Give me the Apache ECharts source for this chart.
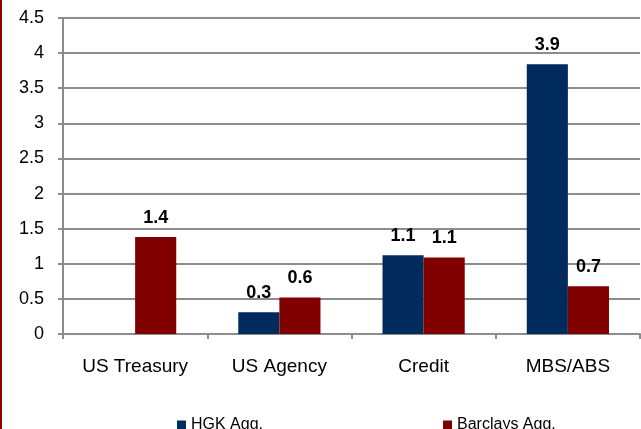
<!DOCTYPE html>
<html>
<head>
<meta charset="utf-8">
<script src="https://cdn.jsdelivr.net/npm/echarts@6/dist/echarts.min.js"></script>
<style>
  html, body { margin: 0; padding: 0; background: #fff; }
  #chart { width: 641px; height: 429px; border-left: 2px solid #8b0000; box-sizing: border-box; }
</style>
</head>
<body>
<div id="chart"></div>
<script>
var categories = ["US Treasury", "US Agency", "Credit", "MBS/ABS"];
var hgkValues = [0, 0.31, 1.12, 3.84];
var barclaysValues = [1.38, 0.52, 1.09, 0.68];
var hgkLabels = ["", "0.3", "1.1", "3.9"];
var barclaysLabels = ["1.4", "0.6", "1.1", "0.7"];
var yTicks = [0, 0.5, 1, 1.5, 2, 2.5, 3, 3.5, 4, 4.5];

var myChart = echarts.init(document.getElementById("chart"));

var option = {
  animation: false,
  textStyle: { fontFamily: "Liberation Sans, Arial, sans-serif", color: "#000" },
  grid: { left: 61, right: 1, top: 18, bottom: 95 },
  legend: {
    data: ["HGK Agg.", "Barclays Agg."],
    left: 170,
    top: 412,
    itemWidth: 9,
    itemHeight: 9,
    itemGap: 180,
    icon: "rect",
    textStyle: { fontSize: 16, color: "#000", padding: [11, 0, 0, 0] }
  },
  xAxis: {
    type: "category",
    data: categories,
    axisLine: { lineStyle: { color: "#8c8c8c", width: 2 } },
    axisTick: { show: true, length: 5, lineStyle: { color: "#8c8c8c", width: 2 } },
    axisLabel: { fontSize: 19, color: "#000", margin: 23 }
  },
  yAxis: {
    type: "value",
    min: 0,
    max: yTicks[yTicks.length - 1],
    interval: 0.5,
    axisLine: { show: true, lineStyle: { color: "#8c8c8c", width: 2 } },
    axisTick: { show: true, length: 5, lineStyle: { color: "#8c8c8c", width: 2 } },
    splitLine: { lineStyle: { color: "#8c8c8c", width: 2 } },
    axisLabel: { fontSize: 18, color: "#000", margin: 19 }
  },
  series: [
    {
      name: "HGK Agg.",
      type: "bar",
      data: hgkValues,
      barGap: "0%",
      barCategoryGap: "43%",
      itemStyle: { color: "#002B5C" },
      label: {
        show: true,
        position: "top",
        distance: 10,
        fontSize: 18,
        fontWeight: "bold",
        color: "#000",
        formatter: function (p) { return hgkLabels[p.dataIndex]; }
      }
    },
    {
      name: "Barclays Agg.",
      type: "bar",
      data: barclaysValues,
      itemStyle: { color: "#800000" },
      label: {
        show: true,
        position: "top",
        distance: 10,
        fontSize: 18,
        fontWeight: "bold",
        color: "#000",
        formatter: function (p) { return barclaysLabels[p.dataIndex]; }
      }
    }
  ]
};

myChart.setOption(option);
</script>
</body>
</html>
